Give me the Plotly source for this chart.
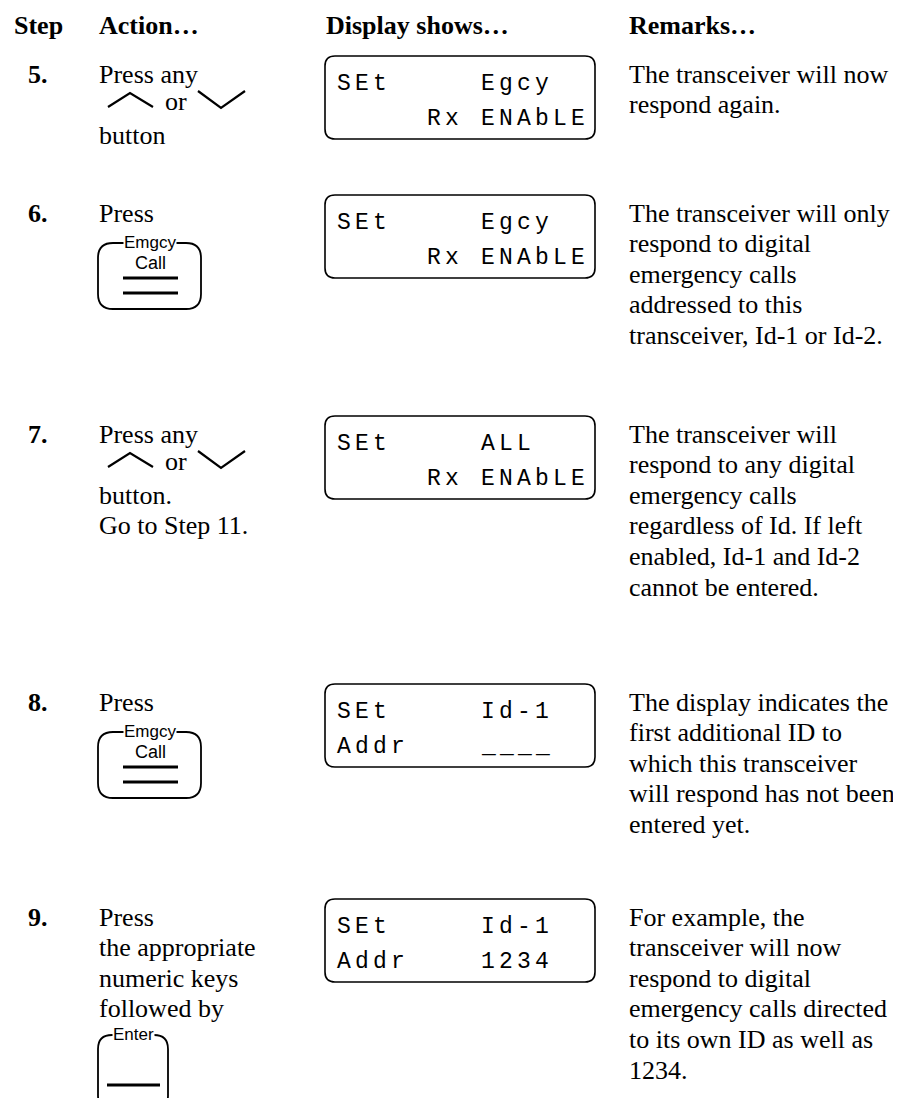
import plotly.graph_objects as go

W, H = 901, 1098
OFF = 8  # page body margin of the html page

# ---------------- content ----------------
headers = ["Step", "Action…", "Display shows…", "Remarks…"]
step_labels = ["5.", "6.", "7.", "8.", "9."]
action_text = [
    ["Press any", None, "button"],
    ["Press"],
    ["Press any", None, "button.", "Go to Step 11."],
    ["Press"],
    ["Press", "the appropriate", "numeric keys", "followed by"],
]
key_kind = ["arrows", "emgcy", "arrows", "emgcy", "enter"]
lcd_top_row = ["SEt     Egcy", "SEt     Egcy", "SEt     ALL", "SEt     Id-1", "SEt     Id-1"]
lcd_bottom_row = ["     Rx ENAbLE", "     Rx ENAbLE", "     Rx ENAbLE", "Addr    ____", "Addr    1234"]
remarks = [
    ["The transceiver will now", "respond again."],
    ["The transceiver will only", "respond to digital", "emergency calls",
     "addressed to this", "transceiver, Id-1 or Id-2."],
    ["The transceiver will", "respond to any digital", "emergency calls",
     "regardless of Id. If left", "enabled, Id-1 and Id-2", "cannot be entered."],
    ["The display indicates the", "first additional ID to", "which this transceiver",
     "will respond has not been", "entered yet."],
    ["For example, the", "transceiver will now", "respond to digital",
     "emergency calls directed", "to its own ID as well as", "1234."],
]

# ---------------- layout constants ----------------
row_y = [74, 213, 434, 702, 917]
header_x = [13, 98, 325, 628]
header_y = 25
LH = 30.6
X_STEP, X_ACT, X_REM = 27, 98, 628
LCD_X0, LCD_X1 = 325, 595
LCD_CHAR0, LCD_ADV = 335, 18

SERIF = "Liberation Serif"
SANS = "Liberation Sans"
MONO = "Liberation Mono"

fig = go.Figure()
fig.add_trace(go.Scatter(x=[0, W], y=[0, H], mode="markers",
                         marker=dict(opacity=0), hoverinfo="skip", showlegend=False))

ann = []
shapes = []


def text(x, y, s, size=26, bold=False, family=SERIF, xanchor="left", bg=None):
    d = dict(x=x, y=y, xref="x", yref="y", text=f"<b>{s}</b>" if bold else s,
             showarrow=False, xanchor=xanchor, yanchor="middle",
             font=dict(family=family, size=size, color="black"), borderpad=0)
    if bg:
        d["bgcolor"] = bg
    ann.append(d)


def rrect(x0, y0, x1, y1, r):
    return (f"M {x0+r},{y0} L {x1-r},{y0} Q {x1},{y0} {x1},{y0+r} "
            f"L {x1},{y1-r} Q {x1},{y1} {x1-r},{y1} L {x0+r},{y1} "
            f"Q {x0},{y1} {x0},{y1-r} L {x0},{y0+r} Q {x0},{y0} {x0+r},{y0} Z")


def path(p, w=1.6):
    shapes.append(dict(type="path", xref="x", yref="y", path=p,
                       line=dict(color="black", width=w), fillcolor="rgba(0,0,0,0)"))


def bar(x0, x1, y, w=3.2):
    shapes.append(dict(type="line", xref="x", yref="y", x0=x0, x1=x1, y0=y, y1=y,
                       line=dict(color="black", width=w)))


# headers
for hx, h in zip(header_x, headers):
    text(hx, header_y, h, bold=True)

for i, s in enumerate(row_y):
    text(X_STEP, s, step_labels[i], bold=True)
    for j, line in enumerate(action_text[i]):
        if line:
            text(X_ACT, s + j * LH, line)
    kind = key_kind[i]
    if kind == "arrows":
        path(f"M 108,{s+33} L 130,{s+19} L 153,{s+33}", 2.2)
        text(164, s + 27, "or")
        path(f"M 198,{s+17} L 221,{s+34} L 245,{s+17}", 2.2)
    elif kind == "emgcy":
        top, bot = s + 30, s + 96
        path(rrect(98, top, 201, bot, 15), 1.8)
        text(150, top - 1, "Emgcy", size=17, family=SANS, xanchor="center", bg="white")
        text(150, top + 20, "Call", size=18, family=SANS, xanchor="center")
        bar(123, 178, top + 35)
        bar(123, 178, top + 50)
    elif kind == "enter":
        top = s + 118
        path(rrect(98, top, 168, H + 12, 14), 1.8)
        text(133, top - 1, "Enter", size=17, family=SANS, xanchor="center", bg="white")
        bar(107, 160, top + 50)
    # LCD display
    top = s - 18
    path(rrect(LCD_X0, top, LCD_X1, top + 83, 10), 1.6)
    for r, row in enumerate([lcd_top_row[i], lcd_bottom_row[i]]):
        yy = top + 28 + r * 35
        for k, ch in enumerate(row):
            if ch != " ":
                text(LCD_CHAR0 + LCD_ADV * k + 9, yy, ch, size=23, family=MONO,
                     xanchor="center")
    for j, line in enumerate(remarks[i]):
        text(X_REM, s + j * LH, line)

fig.update_layout(
    width=W, height=H, margin=dict(l=0, r=0, t=0, b=0),
    paper_bgcolor="white", plot_bgcolor="white",
    xaxis=dict(range=[OFF, W + OFF], visible=False, fixedrange=True),
    yaxis=dict(range=[H + OFF, OFF], visible=False, fixedrange=True),
    annotations=ann, shapes=shapes, showlegend=False,
)
fig.write_html("out.html")
